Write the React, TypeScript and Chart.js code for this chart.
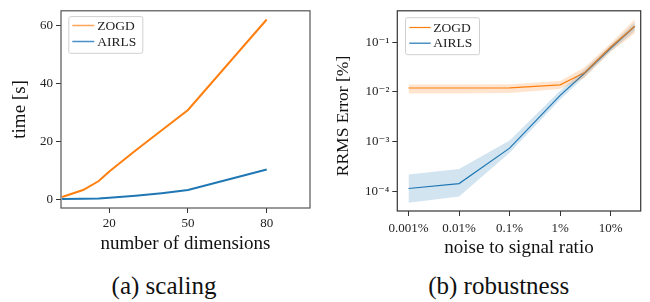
import React, { useEffect, useRef } from 'react';
import { Chart, registerables } from 'chart.js';
Chart.register(...registerables);

// ---------- data: (a) scaling ----------
const dims = [2, 10, 16, 20, 30, 40, 50, 80];
const zogdTime = [0.8, 3.2, 6.3, 9.6, 16.8, 23.8, 30.8, 62];
const airlsTime = [0.1, 0.15, 0.3, 0.5, 1.2, 2.1, 3.2, 10.3];
const scalingXTicks = [20, 50, 80];
const scalingYTicks = [0, 20, 40, 60];

// ---------- data: (b) robustness ----------
const noise = [0.001, 0.01, 0.1, 1, 3, 10, 30];
const zogdErr = [0.012, 0.012, 0.0121, 0.0139, 0.0242, 0.08, 0.21];
const zogdErrHi = [0.0141, 0.0141, 0.0143, 0.0165, 0.031, 0.095, 0.29];
const zogdErrLo = [0.0093, 0.0093, 0.0095, 0.0115, 0.019, 0.065, 0.15];
const airlsErr = [1.14e-4, 1.43e-4, 7.4e-4, 0.0085, 0.0235, 0.075, 0.21];
const airlsErrHi = [2.18e-4, 2.8e-4, 1.05e-3, 0.0105, 0.028, 0.087, 0.25];
const airlsErrLo = [5.9e-5, 7.9e-5, 6.0e-4, 0.007, 0.02, 0.066, 0.17];
const noiseTicks = [0.001, 0.01, 0.1, 1, 10];
const noiseTickLabels = ['0.001%', '0.01%', '0.1%', '1%', '10%'];
const errTicks = [1e-4, 1e-3, 1e-2, 1e-1];
const errTickLabels = ['10⁻⁴', '10⁻³', '10⁻²', '10⁻¹'];

const seriesNames = ['ZOGD', 'AIRLS'];
const ORANGE = '#ff7f0e';
const BLUE = '#1f77b4';
const SERIF = "'Liberation Serif', 'DejaVu Serif', serif";

const pts = (xs: number[], ys: number[]) => xs.map((x, i) => ({ x, y: ys[i] }));

const framePlugin = {
  id: 'frame',
  afterDatasetsDraw(chart: any, _a: any, opts: any) {
    const { ctx, chartArea: a } = chart;
    ctx.save();
    ctx.strokeStyle = opts.color;
    ctx.lineWidth = opts.width;
    ctx.strokeRect(a.left, a.top, a.right - a.left, a.bottom - a.top);
    ctx.restore();
  },
};

const yTitlePlugin = {
  id: 'yTitle',
  afterDraw(chart: any, _a: any, opts: any) {
    if (!opts || !opts.text) return;
    const { ctx } = chart;
    ctx.save();
    ctx.translate(opts.x, opts.y);
    ctx.rotate(-Math.PI / 2);
    ctx.font = `${opts.size}px ${SERIF}`;
    ctx.fillStyle = '#111';
    ctx.textAlign = 'center';
    ctx.textBaseline = 'middle';
    ctx.fillText(opts.text, 0, 0);
    ctx.restore();
  },
};

const legendPlugin = {
  id: 'boxLegend',
  afterDraw(chart: any, _a: any, opts: any) {
    const { ctx, chartArea: a } = chart;
    const x = a.left + opts.dx;
    const y = a.top + opts.dy;
    ctx.save();
    ctx.beginPath();
    ctx.roundRect(x + 0.5, y + 0.5, opts.w, opts.h, 2);
    ctx.fillStyle = 'rgba(255,255,255,0.85)';
    ctx.fill();
    ctx.strokeStyle = '#d0d0d0';
    ctx.lineWidth = 1;
    ctx.stroke();
    opts.items.forEach((it: any, i: number) => {
      const ly = y + opts.firstRow + i * opts.rowGap;
      ctx.strokeStyle = it.color;
      ctx.lineWidth = opts.lineWidth;
      ctx.beginPath();
      ctx.moveTo(x + opts.lineStart, ly);
      ctx.lineTo(x + opts.lineStart + opts.lineLen, ly);
      ctx.stroke();
      ctx.fillStyle = '#222';
      ctx.font = `13.5px ${SERIF}`;
      ctx.textBaseline = 'middle';
      ctx.textAlign = 'left';
      ctx.fillText(it.label, x + opts.textStart, ly + 0.5);
    });
    ctx.restore();
  },
};

const tickFont = { family: SERIF, size: 13 };
const titleFont = { family: SERIF, size: 19 };
const gridOpts = { display: true, drawOnChartArea: false, drawTicks: true, tickLength: 5, tickColor: '#333', lineWidth: 1 };

function ScalingChart() {
  const ref = useRef<HTMLCanvasElement>(null);
  useEffect(() => {
    const chart = new Chart(ref.current!, {
      type: 'line',
      data: {
        datasets: [
          { label: seriesNames[0], data: pts(dims, zogdTime), borderColor: ORANGE, borderWidth: 2, pointRadius: 0, tension: 0, fill: false },
          { label: seriesNames[1], data: pts(dims, airlsTime), borderColor: BLUE, borderWidth: 2, pointRadius: 0, tension: 0, fill: false },
        ],
      },
      options: {
        animation: false,
        responsive: false,
        layout: { padding: { left: 0, right: 15, top: 3, bottom: 0 } },
        plugins: {
          legend: { display: false },
          tooltip: { enabled: false },
          frame: { color: '#555', width: 1.2 },
          boxLegend: {
            dx: 7.3, dy: 5.3, w: 74, h: 36.7, firstRow: 9.4, rowGap: 16, lineStart: 4, lineLen: 22, textStart: 29, lineWidth: 1.5,
            items: [{ label: seriesNames[0], color: '#ffa55a' }, { label: seriesNames[1], color: '#4a90c8' }],
          },
        } as any,
        scales: {
          x: {
            type: 'linear', min: 1.6, max: 96.5,
            afterBuildTicks: (s: any) => { s.ticks = scalingXTicks.map((v) => ({ value: v })); },
            afterFit: (s: any) => { s.height = 52; },
            ticks: { font: tickFont, color: '#222', padding: 3, autoSkip: false, maxRotation: 0, callback: (v: any) => String(v) },
            grid: gridOpts, border: { display: false },
            title: { display: true, text: 'number of dimensions', font: titleFont, color: '#111', padding: { top: 0, bottom: 5 } },
          },
          y: {
            type: 'linear', min: -3, max: 65,
            afterBuildTicks: (s: any) => { s.ticks = scalingYTicks.map((v) => ({ value: v })); },
            afterFit: (s: any) => { s.width = 61; },
            ticks: { font: tickFont, color: '#222', padding: 3, autoSkip: false, callback: (v: any) => String(v) },
            grid: gridOpts, border: { display: false },
            title: { display: true, text: 'time [s]', font: titleFont, color: '#111', padding: { top: 9, bottom: 0 } },
          },
        },
      },
      plugins: [framePlugin, legendPlugin],
    } as any);
    return () => chart.destroy();
  }, []);
  return <canvas ref={ref} width={325} height={260} style={{ width: 325, height: 260, display: 'block' }} />;
}

function RobustnessChart() {
  const ref = useRef<HTMLCanvasElement>(null);
  useEffect(() => {
    const band = (ys: number[], color: string, fill: any) => ({
      label: '', data: pts(noise, ys), borderWidth: 0, borderColor: 'transparent', pointRadius: 0, tension: 0,
      backgroundColor: color, fill,
    });
    const chart = new Chart(ref.current!, {
      type: 'line',
      data: {
        datasets: [
          band(zogdErrHi, 'rgba(255,127,14,0.2)', '+1'),
          band(zogdErrLo, 'rgba(255,127,14,0.2)', false),
          band(airlsErrHi, 'rgba(31,119,180,0.2)', '+1'),
          band(airlsErrLo, 'rgba(31,119,180,0.2)', false),
          { label: seriesNames[0], data: pts(noise, zogdErr), borderColor: ORANGE, borderWidth: 1.2, pointRadius: 0, tension: 0, fill: false },
          { label: seriesNames[1], data: pts(noise, airlsErr), borderColor: BLUE, borderWidth: 1.2, pointRadius: 0, tension: 0, fill: false },
        ],
      },
      options: {
        animation: false,
        responsive: false,
        layout: { padding: { left: 0, right: 9.3, top: 4.3, bottom: 0 } },
        plugins: {
          legend: { display: false },
          tooltip: { enabled: false },
          frame: { color: '#333', width: 1.2 },
          yTitle: { text: 'RRMS Error [%]', x: 18.5, y: 116, size: 17.5 },
          boxLegend: {
            dx: 7.7, dy: 6.4, w: 74, h: 37, firstRow: 10.3, rowGap: 15.7, lineStart: 4.3, lineLen: 21.4, textStart: 28.3, lineWidth: 1.2,
            items: [{ label: seriesNames[0], color: ORANGE }, { label: seriesNames[1], color: BLUE }],
          },
        } as any,
        scales: {
          x: {
            type: 'logarithmic', min: 6.07e-4, max: 39.2,
            afterBuildTicks: (s: any) => { s.ticks = noiseTicks.map((v) => ({ value: v })); },
            afterFit: (s: any) => { s.height = 49; },
            ticks: { font: tickFont, color: '#222', padding: 5, autoSkip: false, maxRotation: 0, callback: (_v: any, i: number) => noiseTickLabels[i] },
            grid: gridOpts, border: { display: false },
            title: { display: true, text: 'noise to signal ratio', font: titleFont, color: '#111', padding: { top: 0, bottom: 1 } },
          },
          y: {
            type: 'logarithmic', min: 4.02e-5, max: 0.4285,
            afterBuildTicks: (s: any) => { s.ticks = errTicks.map((v) => ({ value: v })); },
            afterFit: (s: any) => { s.width = 72.3; },
            ticks: { font: tickFont, color: '#222', padding: 3, autoSkip: false, callback: (_v: any, i: number) => errTickLabels[i] },
            grid: gridOpts, border: { display: false },
            title: { display: false },
          },
        },
      },
      plugins: [framePlugin, legendPlugin, yTitlePlugin],
    } as any);
    return () => chart.destroy();
  }, []);
  return <canvas ref={ref} width={325} height={260} style={{ width: 325, height: 260, display: 'block' }} />;
}

const captionStyle = (cx: number): React.CSSProperties => ({
  position: 'absolute', left: cx - 100, width: 200, top: 272, textAlign: 'center',
  fontFamily: SERIF, fontSize: 25, lineHeight: '27px', color: '#111',
});

export default function App() {
  return (
    <div style={{ position: 'absolute', left: 0, top: 0, width: 650, height: 302, background: '#fff', overflow: 'hidden' }}>
      <div style={{ position: 'absolute', left: 0, top: 0 }}><ScalingChart /></div>
      <div style={{ position: 'absolute', left: 325, top: 0 }}><RobustnessChart /></div>
      <div style={captionStyle(164)}>(a) scaling</div>
      <div style={captionStyle(498.7)}>(b) robustness</div>
    </div>
  );
}
